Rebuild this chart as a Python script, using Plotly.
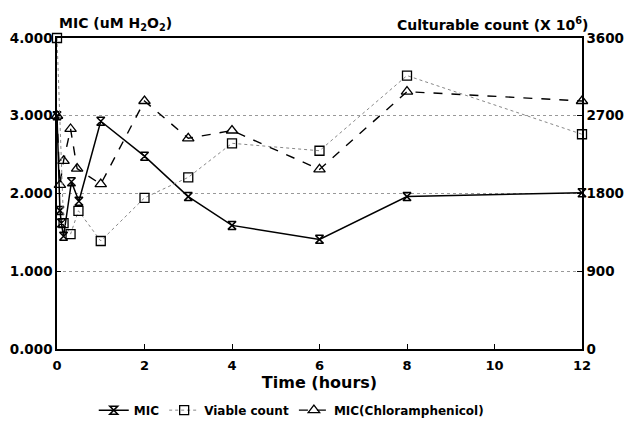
import plotly.graph_objects as go

# Data
mic_t = [0, 0.067, 0.1, 0.15, 0.33, 0.5, 1, 2, 3, 4, 6, 8, 12]
mic_v = [3.0, 1.78, 1.62, 1.45, 2.15, 1.90, 2.93, 2.48, 1.96, 1.59, 1.41, 1.96, 2.01]

viable_t = [0, 0.15, 0.31, 0.49, 1, 2, 3, 4, 6, 8, 12]
viable_v = [3600, 1458, 1330, 1600, 1250, 1750, 1987, 2381, 2295, 3165, 2486]

chl_t = [0, 0.067, 0.15, 0.31, 0.46, 1, 2, 3, 4, 6, 8, 12]
chl_v = [3.0, 2.11, 2.42, 2.83, 2.32, 2.12, 3.19, 2.71, 2.81, 2.31, 3.31, 3.19]

x_ticks = [0, 2, 4, 6, 8, 10, 12]
left_ticks = [0, 1, 2, 3, 4]
left_labels = ["0.000", "1.000", "2.000", "3.000", "4.000"]
right_ticks = [0, 900, 1800, 2700, 3600]

FONT = "DejaVu Sans"

def bf(size):
    return dict(family=FONT, size=size, color="black", weight="bold")

fig = go.Figure()
fig.add_trace(go.Scatter(
    x=mic_t, y=mic_v, name="MIC", mode="lines+markers",
    line=dict(color="black", width=1.5),
    marker=dict(symbol="hourglass-open", size=8, color="black", line=dict(width=1.5, color="black")),
    cliponaxis=False, yaxis="y"))
fig.add_trace(go.Scatter(
    x=viable_t, y=viable_v, name="Viable count", mode="lines+markers",
    line=dict(color="#888888", width=1, dash="dot"),
    marker=dict(symbol="square-open", size=9, color="black", line=dict(width=1.3, color="black")),
    cliponaxis=False, yaxis="y2"))
fig.add_trace(go.Scatter(
    x=chl_t, y=chl_v, name="MIC(Chloramphenicol)", mode="lines+markers",
    line=dict(color="black", width=1.4, dash="dash"),
    marker=dict(symbol="triangle-up-open", size=10, color="black", line=dict(width=1.3, color="black")),
    cliponaxis=False, yaxis="y"))

fig.update_layout(
    width=629, height=442,
    margin=dict(l=57, r=47, t=38, b=93, autoexpand=False),
    paper_bgcolor="white", plot_bgcolor="white",
    font=dict(family=FONT, color="black"),
    xaxis=dict(
        range=[0, 12], tickvals=x_ticks, ticktext=[str(v) for v in x_ticks],
        showline=True, linecolor="black", linewidth=1.5, mirror=True,
        ticks="inside", ticklen=5, tickcolor="black", showgrid=False, zeroline=False,
        tickfont=bf(13), ticklabelstandoff=4, automargin=False,
        title=dict(text="Time (hours)", font=bf(16), standoff=2),
    ),
    yaxis=dict(
        range=[0, 4], tickvals=left_ticks, ticktext=left_labels,
        showline=True, linecolor="black", linewidth=1.5,
        ticks="inside", ticklen=4, tickcolor="black",
        showgrid=True, gridcolor="#999999", griddash="dot", gridwidth=1, zeroline=False,
        tickfont=bf(13.5), automargin=False,
    ),
    yaxis2=dict(
        range=[0, 3600], tickvals=right_ticks, ticktext=[str(v) for v in right_ticks],
        overlaying="y", side="right",
        showline=True, linecolor="black", linewidth=1.5,
        ticks="inside", ticklen=5, tickcolor="black",
        showgrid=False, zeroline=False,
        tickfont=bf(13.5), automargin=False,
    ),
    legend=dict(
        orientation="h", x=0.07, y=-0.15, xanchor="left", yanchor="top",
        font=bf(12), itemwidth=30, bgcolor="rgba(0,0,0,0)",
    ),
    showlegend=True,
)

fig.add_annotation(
    text="MIC (uM H<sub>2</sub>O<sub>2</sub>)", xref="paper", yref="paper",
    x=0, y=1.0, xanchor="left", yanchor="bottom", yshift=3, showarrow=False,
    font=bf(14))
fig.add_annotation(
    text="Culturable count (X 10<sup>6</sup>)", xref="paper", yref="paper",
    x=1.0, y=1.0, xanchor="right", yanchor="bottom", xshift=8, yshift=3, showarrow=False,
    font=bf(14))

fig.write_html("out.html")
